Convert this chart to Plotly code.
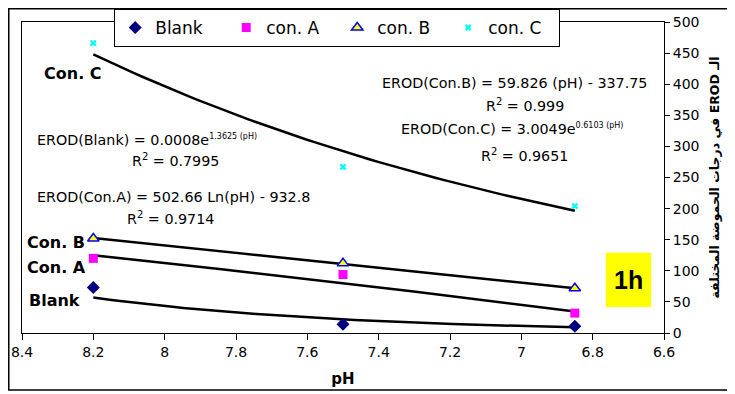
import numpy as np
import plotly.graph_objects as go

# valeurs
ph = [8.2, 7.5, 6.85]
blank = [73, 14, 11]
con_a = [120, 94, 32]
con_b = [152, 112, 72]
con_c = [466, 267, 204]

x_ticks = [8.4, 8.2, 8.0, 7.8, 7.6, 7.4, 7.2, 7.0, 6.8, 6.6]
x_tick_labels = ["8.4", "8.2", "8", "7.8", "7.6", "7.4", "7.2", "7", "6.8", "6.6"]

# coefficients des courbes de tendance (équations affichées)
blank_exp = [0.0008, 1.3625]
con_a_log = [502.66, -932.8]
con_b_lin = [59.826, -337.75]
con_c_exp = [3.0049, 0.6103]

ph_fit = np.linspace(min(ph), max(ph), 60)
fits = [
    blank_exp[0] * np.exp(blank_exp[1] * ph_fit),
    con_a_log[0] * np.log(ph_fit) + con_a_log[1],
    con_b_lin[0] * ph_fit + con_b_lin[1],
    con_c_exp[0] * np.exp(con_c_exp[1] * ph_fit),
]

fig = go.Figure()

for y_fit in fits:
    fig.add_trace(go.Scatter(x=ph_fit, y=y_fit, mode='lines', showlegend=False,
                             line=dict(color='black', width=2.5), hoverinfo='skip'))

fig.add_trace(go.Scatter(x=ph, y=blank, mode='markers', name='Blank',
                         marker=dict(symbol='diamond', size=10, color='#000080')))
fig.add_trace(go.Scatter(x=ph, y=con_a, mode='markers', name='con. A',
                         marker=dict(symbol='square', size=9, color='#FF00FF')))
fig.add_trace(go.Scatter(x=ph, y=con_b, mode='markers', name='con. B',
                         marker=dict(symbol='triangle-up', size=10, color='#FFFF00',
                                     line=dict(color='#0000FF', width=1.5))))
fig.add_trace(go.Scatter(x=ph, y=con_c, mode='markers', name='con. C',
                         marker=dict(symbol='x', size=6, color='#00FFFF')))

eq_font = dict(family='DejaVu Sans', size=14.3, color='black')
lab_font = dict(family='DejaVu Sans', size=16, color='black', weight='bold')
sup = '<sup><span style="font-size:8px">%s</span></sup>'

notes = [
    (8.344, 418, 'Con. C', 'left', lab_font),
    (8.392, 146, 'Con. B', 'left', lab_font),
    (8.392, 106, 'Con. A', 'left', lab_font),
    (8.386, 53, 'Blank', 'left', lab_font),
    (8.364, 310, 'EROD(Blank) = 0.0008e' + sup % '1.3625 (pH)', 'left', eq_font),
    (7.971, 278, 'R<sup>2</sup> = 0.7995', 'center', eq_font),
    (8.364, 219, 'EROD(Con.A) = 502.66 Ln(pH) - 932.8', 'left', eq_font),
    (7.985, 185, 'R<sup>2</sup> = 0.9714', 'center', eq_font),
    (7.019, 402, 'EROD(Con.B) = 59.826 (pH) - 337.75', 'center', eq_font),
    (6.990, 367, 'R<sup>2</sup> = 0.999', 'center', eq_font),
    (7.026, 328, 'EROD(Con.C) = 3.0049e' + sup % '0.6103 (pH)', 'center', eq_font),
    (6.990, 286, 'R<sup>2</sup> = 0.9651', 'center', eq_font),
]
for x, y, txt, anchor, f in notes:
    fig.add_annotation(x=x, y=y, xref='x', yref='y', text=txt, showarrow=False,
                       xanchor=anchor, yanchor='middle', font=f)

# encadré "1h"
fig.add_shape(type='rect', xref='x', yref='y', x0=6.763, x1=6.636, y0=42, y1=129,
              fillcolor='#FFFF00', line=dict(width=0), layer='below')
fig.add_annotation(x=6.70, y=85, xref='x', yref='y', text='1h', showarrow=False,
                   font=dict(family='Liberation Sans', size=25, color='black', weight='bold'))

# cadre extérieur
fig.add_shape(type='rect', xref='paper', yref='paper', x0=-0.0206, x1=1.1028,
              y0=-0.1833, y1=1.0424, line=dict(color='black', width=1.5))

# titre arabe (ordre inversé pour un rendu de droite à gauche correct)
y_title = 'في درجات الحموضة المختلفة EROD الـ'

tick_font = dict(family='DejaVu Sans', size=14, color='black')
fig.update_layout(
    width=727, height=386,
    margin=dict(l=14, r=71, t=14, b=61, autoexpand=False),
    paper_bgcolor='white', plot_bgcolor='white',
    font=dict(family='DejaVu Sans', color='black'),
    showlegend=True,
    legend=dict(orientation='h', x=0.491, xanchor='center', y=1.042, yanchor='top',
                bgcolor='white', bordercolor='black', borderwidth=1,
                entrywidth=66, entrywidthmode='pixels', itemwidth=30,
                font=dict(family='DejaVu Sans', size=17, color='black')),
    xaxis=dict(range=[8.4, 6.6], tickvals=x_ticks, ticktext=x_tick_labels,
               showgrid=False, zeroline=False, showline=True, mirror=True,
               linecolor='black', linewidth=1, ticks='outside', ticklen=6,
               tickcolor='black', tickfont=tick_font, automargin=False,
               title=dict(text='<b>pH</b>', standoff=14,
                          font=dict(family='DejaVu Sans', size=15, color='black'))),
    yaxis=dict(range=[0, 500], dtick=50, side='right',
               showgrid=False, zeroline=False, showline=True, mirror=True,
               linecolor='black', linewidth=1, ticks='outside', ticklen=5,
               tickcolor='black', tickfont=tick_font, automargin=False,
               title=dict(text='<b>' + y_title + '</b>', standoff=11,
                          font=dict(family='DejaVu Sans', size=12.5, color='black'))),
)

fig.write_html("out.html")
